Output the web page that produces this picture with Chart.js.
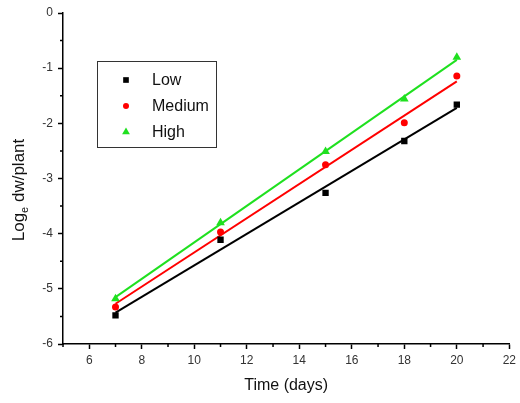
<!DOCTYPE html>
<html>
<head>
<meta charset="utf-8">
<script src="https://cdn.jsdelivr.net/npm/chart.js@4/dist/chart.umd.min.js"></script>
<style>
  html, body { margin: 0; padding: 0; background: #fff; }
  #wrap { width: 520px; height: 403px; }
</style>
</head>
<body>
<div id="wrap"><canvas id="chart"></canvas></div>
<script>
// sampling days
const days = [7, 11, 15, 18, 20];

// measured log_e dry weight per plant
const lowVals = [-5.48, -4.11, -3.26, -2.32, -1.66];
const mediumVals = [-5.33, -3.97, -2.75, -1.99, -1.14];
const highVals = [-5.18, -3.80, -2.51, -1.56, -0.80];

// fitted lines, read at both ends (day 7 and day 20)
const fitDays = [7, 20];
const lowFit = [-5.43, -1.72];
const mediumFit = [-5.27, -1.24];
const highFit = [-5.15, -0.85];

const xTicks = [6, 8, 10, 12, 14, 16, 18, 20, 22];
const xMinor = [5, 7, 9, 11, 13, 15, 17, 19, 21];
const yTicks = [-6, -5, -4, -3, -2, -1, 0];
const yMinor = [-5.5, -4.5, -3.5, -2.5, -1.5, -0.5];

const FONT = "'Liberation Sans', Arial, sans-serif";

function pts(xs, ys) {
  return xs.map((x, i) => ({ x: x, y: ys[i] }));
}

const series = [
  { label: "Low", vals: lowVals, fit: lowFit, color: "#000000", style: "rect", r: 4.5 },
  { label: "Medium", vals: mediumVals, fit: mediumFit, color: "#ff0000", style: "circle", r: 3.5 },
  { label: "High", vals: highVals, fit: highFit, color: "#1fe01f", style: "triangle", r: 5 }
];

const datasets = [];
series.forEach(s => {
  datasets.push({
    label: s.label,
    data: pts(days, s.vals),
    showLine: false,
    pointStyle: s.style,
    pointRadius: s.r,
    backgroundColor: s.color,
    borderColor: s.color,
    borderWidth: 0,
    order: 1
  });
});
series.forEach(s => {
  datasets.push({
    label: s.label + " fit",
    data: pts(fitDays, s.fit),
    showLine: true,
    pointRadius: 0,
    borderColor: s.color,
    borderWidth: 2,
    order: 2
  });
});

/* minor ticks, y title with subscript, boxed legend */
const extras = {
  id: "extras",
  afterDraw(chart) {
    const ctx = chart.ctx;
    const xs = chart.scales.x, ys = chart.scales.y;
    const area = chart.chartArea;
    ctx.save();
    ctx.strokeStyle = "#000";
    ctx.lineWidth = 1.5;
    ctx.beginPath();
    xMinor.forEach(v => {
      const px = xs.getPixelForValue(v);
      ctx.moveTo(px, area.bottom);
      ctx.lineTo(px, area.bottom + 3);
    });
    yMinor.forEach(v => {
      const py = ys.getPixelForValue(v);
      ctx.moveTo(area.left, py);
      ctx.lineTo(area.left - 3, py);
    });
    ctx.stroke();

    // y title: Log_e dw/plant
    const big = "17px " + FONT, small = "11px " + FONT;
    ctx.font = big;
    const wLog = ctx.measureText("Log").width;
    const wRest = ctx.measureText(" dw/plant").width;
    ctx.font = small;
    const wE = ctx.measureText("e").width;
    const total = wLog + wE + wRest;
    ctx.translate(24, 190);
    ctx.rotate(-Math.PI / 2);
    ctx.fillStyle = "#111";
    ctx.textBaseline = "alphabetic";
    ctx.textAlign = "left";
    let x0 = -total / 2;
    ctx.font = big;
    ctx.fillText("Log", x0, 0);
    ctx.font = small;
    ctx.fillText("e", x0 + wLog, 4);
    ctx.font = big;
    ctx.fillText(" dw/plant", x0 + wLog + wE, 0);
    ctx.restore();

    // legend box
    ctx.save();
    ctx.strokeStyle = "#333";
    ctx.lineWidth = 1;
    ctx.strokeRect(97.5, 61.5, 119, 86);
    ctx.font = "16px " + FONT;
    ctx.textBaseline = "middle";
    ctx.fillStyle = "#111";
    series.forEach((s, i) => {
      const y = 80 + i * 26;
      ctx.fillStyle = s.color;
      ctx.strokeStyle = s.color;
      Chart.helpers.drawPoint(ctx, { pointStyle: s.style, radius: s.r - 0.5, borderWidth: 0 }, 126, y);
      ctx.fillStyle = "#111";
      ctx.fillText(s.label, 152, y + 1);
    });
    ctx.restore();
  }
};

const axisGrid = {
  display: true,
  drawOnChartArea: false,
  drawTicks: true,
  tickLength: 5,
  tickWidth: 1.5,
  tickColor: "#000"
};
const axisBorder = { display: true, color: "#000", width: 1.5 };
const tickFont = { family: FONT, size: 12 };

new Chart(document.getElementById("chart"), {
  type: "scatter",
  data: { datasets: datasets },
  options: {
    responsive: true,
    maintainAspectRatio: false,
    animation: false,
    layout: { padding: { left: 0, right: 7, top: 13, bottom: 0 } },
    plugins: {
      legend: { display: false },
      tooltip: { enabled: false }
    },
    scales: {
      x: {
        type: "linear",
        min: 5,
        max: 22,
        afterBuildTicks: sc => { sc.ticks = xTicks.map(v => ({ value: v })); },
        afterFit: sc => { sc.height = 59; },
        grid: axisGrid,
        border: axisBorder,
        ticks: { color: "#333", font: tickFont, padding: 4, maxRotation: 0 },
        title: {
          display: true,
          text: "Time (days)",
          color: "#111",
          font: { family: FONT, size: 16 },
          padding: { top: 0, bottom: 8 }
        }
      },
      y: {
        type: "linear",
        min: -6,
        max: 0,
        afterBuildTicks: sc => { sc.ticks = yTicks.map(v => ({ value: v })); },
        afterFit: sc => { sc.width = 63; },
        grid: axisGrid,
        border: axisBorder,
        ticks: { color: "#333", font: tickFont, padding: 5 }
      }
    }
  },
  plugins: [extras]
});
</script>
</body>
</html>
